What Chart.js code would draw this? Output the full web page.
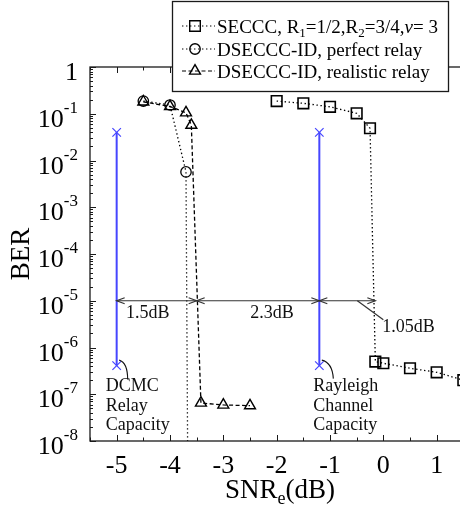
<!DOCTYPE html>
<html>
<head>
<meta charset="utf-8">
<script src="https://cdn.jsdelivr.net/npm/chart.js@4.4.1/dist/chart.umd.min.js"></script>
<style>
  html, body { margin: 0; padding: 0; background: #fff; }
  #wrap { width: 460px; height: 506px; overflow: hidden; position: relative; }
  #wrap canvas { display: block; }
</style>
</head>
<body>
<div id="wrap"><canvas id="c" width="500" height="506" style="width:500px;height:506px"></canvas></div>
<script>
// SNR_e (dB) and BER of each curve
const secccSnr = [-2, -1.5, -1, -0.5, -0.25, -0.15, 0, 0.5, 1, 1.5];
const secccBer = [0.187, 0.167, 0.141, 0.102, 0.049, 5.0e-7, 4.6e-7, 3.6e-7, 2.95e-7, 2.0e-7];

const perfectSnr = [-4.5, -4, -3.7, -3.66];
const perfectBer = [0.187, 0.154, 0.0057, 1e-10];   // last point: waterfall below 1e-8

const realisticSnr = [-4.5, -4, -3.7, -3.6, -3.42, -3, -2.5];
const realisticBer = [0.18, 0.143, 0.105, 0.057, 6.5e-8, 5.9e-8, 5.7e-8];

// capacity limits (vertical blue markers)
const capacitySnr = [-5, -1.2];          // DCMC relay, Rayleigh channel
const capacityBerRange = [0.04, 4.1e-7];  // top and bottom of each marker
const capacityLabels = [['DCMC', 'Relay', 'Capacity'], ['Rayleigh', 'Channel', 'Capacity']];

// SNR gaps measured at BER = 1e-5
const gapBounds = [-5, -3.5, -1.2, -0.15];
const gapBer = 1e-5;
const gapLabels = ['1.5dB', '2.3dB', '1.05dB'];

// axes
const xTicks = [-5, -4, -3, -2, -1, 0, 1];
const xTickLabels = ['-5', '-4', '-3', '-2', '-1', '0', '1'];
const yTicks = [1, 1e-1, 1e-2, 1e-3, 1e-4, 1e-5, 1e-6, 1e-7, 1e-8];
const yTickBase = ['1', '10', '10', '10', '10', '10', '10', '10', '10'];
const yTickExp = ['', '-1', '-2', '-3', '-4', '-5', '-6', '-7', '-8'];

// legend entries as rich-text runs: [text, style]  (n = normal, sub, it = italic)
const legendLabels = [
  [['SECCC, R', 'n'], ['1', 'sub'], ['=1/2,R', 'n'], ['2', 'sub'], ['=3/4,', 'n'], ['\u03BD', 'it'], ['= 3', 'n']],
  [['DSECCC-ID, perfect relay', 'n']],
  [['DSECCC-ID, realistic relay', 'n']]
];

const SERIF = '"Liberation Serif", "DejaVu Serif", serif';
const INK = '#1a1a1a';
const BLUE = '#4646ff';

const toPts = (xs, ys) => xs.map((x, i) => ({ x, y: ys[i] }));

const datasets = [
  {
    label: 'SECCC', data: toPts(secccSnr, secccBer),
    borderColor: '#000', borderWidth: 1.3, borderDash: [1.4, 2.6],
    pointStyle: 'rect', pointRadius: 7.5, pointBorderWidth: 1.6,
    pointBorderColor: '#000', pointBackgroundColor: 'rgba(0,0,0,0)'
  },
  {
    label: 'perfect', data: toPts(perfectSnr, perfectBer),
    borderColor: '#000', borderWidth: 1.3, borderDash: [1.4, 2.6],
    pointStyle: 'circle', pointRadius: perfectSnr.map((_, i) => i < perfectSnr.length - 1 ? 5.2 : 0),
    pointBorderWidth: 1.3, pointBorderColor: '#000', pointBackgroundColor: 'rgba(0,0,0,0)'
  },
  {
    label: 'realistic', data: toPts(realisticSnr, realisticBer),
    borderColor: '#000', borderWidth: 1.3, borderDash: [4, 2.5],
    pointStyle: 'triangle', pointRadius: 6.3, pointBorderWidth: 1.4,
    pointBorderColor: '#000', pointBackgroundColor: 'rgba(0,0,0,0)'
  },
  ...capacitySnr.map(s => ({
    label: 'capacity', data: capacityBerRange.map(b => ({ x: s, y: b })),
    borderColor: BLUE, borderWidth: 2, pointStyle: 'crossRot', pointRadius: 6,
    pointBorderWidth: 1.2, pointBorderColor: BLUE
  }))
];

function fontFor(m, size) {
  if (m === 'sub' || m === 'sup') return `${Math.round(size * 0.68)}px ${SERIF}`;
  if (m === 'it') return `italic ${size}px ${SERIF}`;
  return `${size}px ${SERIF}`;
}
function richWidth(ctx, runs, size) {
  let w = 0;
  for (const [t, m] of runs) {
    ctx.font = fontFor(m, size);
    w += ctx.measureText(t).width;
  }
  return w;
}
function drawRich(ctx, runs, x, y, size) {
  ctx.textAlign = 'left';
  ctx.textBaseline = 'alphabetic';
  for (const [t, m] of runs) {
    ctx.font = fontFor(m, size);
    const dy = m === 'sub' ? size * 0.22 : (m === 'sup' ? -size * 0.42 : 0);
    ctx.fillText(t, x, y + dy);
    x += ctx.measureText(t).width;
  }
}

function marker(ctx, style, x, y) {
  ctx.beginPath();
  if (style === 'rect') {
    ctx.rect(x - 5.3, y - 5.3, 10.6, 10.6);
  } else if (style === 'circle') {
    ctx.arc(x, y, 5.2, 0, Math.PI * 2);
  } else {
    const r = 6.3;
    ctx.moveTo(x, y - r);
    ctx.lineTo(x + r * Math.sin(2.0944), y - r * Math.cos(2.0944));
    ctx.lineTo(x + r * Math.sin(4.1888), y - r * Math.cos(4.1888));
    ctx.closePath();
  }
  ctx.stroke();
}

function arrowHead(ctx, x, y, dir) {
  // dir = +1 points right, -1 points left
  ctx.beginPath();
  ctx.moveTo(x - dir * 8, y - 3);
  ctx.lineTo(x, y);
  ctx.lineTo(x - dir * 8, y + 3);
  ctx.stroke();
}

const frameAndTicks = {
  id: 'frameAndTicks',
  beforeDatasetsDraw(chart) {
    const { ctx, chartArea: a, scales: { x, y } } = chart;
    ctx.save();
    ctx.strokeStyle = INK;
    ctx.lineWidth = 1.3;
    ctx.strokeRect(a.left, a.top, a.right - a.left, a.bottom - a.top);

    ctx.lineWidth = 1;
    // x ticks (bottom and top, major every 1 dB, minor every 0.5 dB)
    for (let v = Math.ceil(x.min * 2) / 2; v <= x.max + 1e-9; v += 0.5) {
      const px = Math.round(x.getPixelForValue(v)) + 0.5;
      const len = Number.isInteger(v) ? 6 : 3.5;
      ctx.beginPath();
      ctx.moveTo(px, a.bottom); ctx.lineTo(px, a.bottom - len);
      ctx.moveTo(px, a.top); ctx.lineTo(px, a.top + len);
      ctx.stroke();
    }
    // y ticks (decades + log minor ticks)
    for (let e = -8; e <= 0; e++) {
      for (let k = 1; k <= 9; k++) {
        const v = k * Math.pow(10, e);
        if (v > 1 + 1e-12) break;
        const py = Math.round(y.getPixelForValue(v)) + 0.5;
        const len = k === 1 ? 6 : 3;
        ctx.beginPath();
        ctx.moveTo(a.left, py); ctx.lineTo(a.left + len, py);
        ctx.stroke();
      }
    }

    // tick labels
    ctx.fillStyle = '#000';
    ctx.font = `26px ${SERIF}`;
    ctx.textAlign = 'center';
    ctx.textBaseline = 'alphabetic';
    xTicks.forEach((v, i) => {
      ctx.fillText(xTickLabels[i], x.getPixelForValue(v), a.bottom + 32);
    });
    yTicks.forEach((v, i) => {
      const py = y.getPixelForValue(v);
      const right = a.left - 12;
      ctx.font = `26px ${SERIF}`;
      const bw = ctx.measureText(yTickBase[i]).width;
      ctx.font = `17px ${SERIF}`;
      const ew = ctx.measureText(yTickExp[i]).width;
      ctx.textAlign = 'left';
      ctx.font = `26px ${SERIF}`;
      ctx.fillText(yTickBase[i], right - bw - ew, py + 13);
      ctx.font = `17px ${SERIF}`;
      ctx.fillText(yTickExp[i], right - ew, py - 1);
    });

    // axis titles
    ctx.font = `27px ${SERIF}`;
    ctx.save();
    ctx.translate(29, 254);
    ctx.rotate(-Math.PI / 2);
    ctx.textAlign = 'center';
    ctx.fillText('BER', 0, 0);
    ctx.restore();

    const title = [['SNR', 'n'], ['e', 'sub'], ['(dB)', 'n']];
    const tw = richWidth(ctx, title, 27);
    drawRich(ctx, title, 280 - tw / 2, 498, 27);
    ctx.restore();
  }
};

const notes = {
  id: 'notes',
  afterDatasetsDraw(chart) {
    const { ctx, scales: { x, y } } = chart;
    ctx.save();

    // gap arrows at BER = 1e-5
    const ay = y.getPixelForValue(gapBer);
    ctx.strokeStyle = '#333';
    ctx.lineWidth = 1.2;
    for (let i = 0; i < gapBounds.length - 1; i++) {
      const x0 = x.getPixelForValue(gapBounds[i]);
      const x1 = x.getPixelForValue(gapBounds[i + 1]);
      ctx.beginPath();
      ctx.moveTo(x0, ay); ctx.lineTo(x1, ay);
      ctx.stroke();
      arrowHead(ctx, x0, ay, -1);
      arrowHead(ctx, x1, ay, 1);
    }

    ctx.fillStyle = '#111';
    ctx.font = `18px ${SERIF}`;
    ctx.textBaseline = 'middle';
    ctx.textAlign = 'center';
    const mid = i => (x.getPixelForValue(gapBounds[i]) + x.getPixelForValue(gapBounds[i + 1])) / 2;
    ctx.fillText(gapLabels[0], mid(0) - 9, ay + 13);
    ctx.fillText(gapLabels[1], mid(1) + 14, ay + 13);
    // third gap label sits below-right with a leader line
    const lx = x.getPixelForValue(gapBounds[3]) + 7;
    ctx.textAlign = 'left';
    ctx.fillText(gapLabels[2], lx, ay + 27);
    ctx.beginPath();
    ctx.moveTo(mid(2) + 10, ay);
    ctx.lineTo(lx + 1, ay + 19);
    ctx.stroke();

    // capacity labels with curved leaders from the lower markers
    const offs = [{ tx: -11, cx: 11, ex: 11, ey: 14 }, { tx: -6, cx: 13, ex: 14, ey: 13 }];
    capacitySnr.forEach((s, k) => {
      const px = x.getPixelForValue(s);
      const py = y.getPixelForValue(capacityBerRange[1]);
      const o = offs[k];
      ctx.strokeStyle = '#111';
      ctx.lineWidth = 1.1;
      ctx.beginPath();
      ctx.moveTo(px + 2.5, py - 5.5);
      ctx.quadraticCurveTo(px + o.cx, py - 3, px + o.ex, py + o.ey);
      ctx.stroke();
      ctx.textAlign = 'left';
      capacityLabels[k].forEach((line, j) => {
        ctx.fillText(line, px + o.tx, py + 21 + j * 19.5);
      });
    });
    ctx.restore();
  },
  afterDraw(chart) {
    const { ctx } = chart;
    ctx.save();
    // legend box
    const bx = 172.5, by = 1.5, bw = 276, bh = 90;
    ctx.fillStyle = '#fff';
    ctx.fillRect(bx, by, bw, bh);
    ctx.strokeStyle = INK;
    ctx.lineWidth = 1.3;
    ctx.strokeRect(bx, by, bw, bh);

    const rows = [26, 49, 71];
    const styles = ['rect', 'circle', 'triangle'];
    const dashes = [[1.4, 2.6], [1.4, 2.6], [4, 2.5]];
    ctx.fillStyle = '#000';
    rows.forEach((ry, i) => {
      ctx.strokeStyle = '#000';
      ctx.lineWidth = 1.2;
      ctx.setLineDash(dashes[i]);
      ctx.beginPath();
      ctx.moveTo(182, ry); ctx.lineTo(215, ry);
      ctx.stroke();
      ctx.setLineDash([]);
      ctx.lineWidth = 1.4;
      marker(ctx, styles[i], 195, ry);
      drawRich(ctx, legendLabels[i], 217, ry + 7, 19);
    });
    ctx.restore();
  }
};

new Chart(document.getElementById('c'), {
  type: 'scatter',
  data: { datasets: datasets.map(d => Object.assign({ showLine: true, tension: 0, fill: false }, d)) },
  options: {
    responsive: false,
    animation: false,
    events: [],
    layout: { padding: { left: 90, top: 67, right: 10, bottom: 65 } },
    plugins: { legend: { display: false }, tooltip: { enabled: false } },
    scales: {
      x: {
        type: 'linear', min: -5.5, max: 2,
        grid: { display: false, drawTicks: false },
        border: { display: false },
        ticks: { display: false }
      },
      y: {
        type: 'logarithmic', min: 1e-8, max: 1,
        grid: { display: false, drawTicks: false },
        border: { display: false },
        ticks: { display: false }
      }
    }
  },
  plugins: [frameAndTicks, notes]
});
</script>
</body>
</html>
